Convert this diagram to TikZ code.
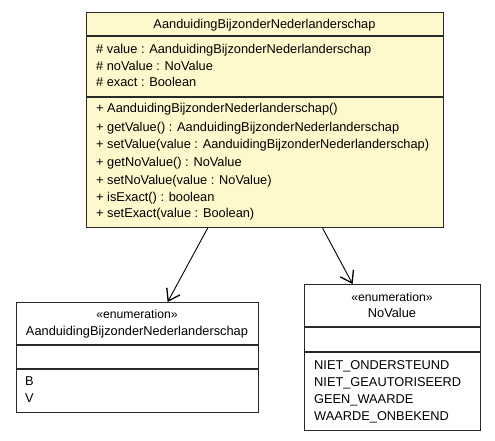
\documentclass[tikz,border=0pt]{standalone}
\usepackage{fontspec}
\setmainfont{Liberation Sans}
\usetikzlibrary{arrows.meta}
\definecolor{classfill}{RGB}{255,248,204}
\definecolor{edge}{RGB}{40,40,40}
\tikzset{
  umlbox/.style={draw=edge, line width=1.2pt, anchor=north west, inner sep=0pt},
  sep/.style={draw=edge, line width=1.2pt},
  txt/.style={anchor=base west, inner sep=0pt, font=\fontsize{12.8}{14}\selectfont},
  ctxt/.style={anchor=base, inner sep=0pt, font=\fontsize{12.8}{14}\selectfont},
  stereo/.style={anchor=base, inner sep=0pt, font=\fontsize{12.2}{14}\selectfont},
  assoc/.style={draw=black, line width=0.9pt, -{Straight Barb[length=11pt,width=15pt,line width=1.3pt]}}
}
\begin{document}
\begin{tikzpicture}[x=1pt,y=-1pt]
\useasboundingbox (0,0) rectangle (495,440);
% main class
\node[umlbox, fill=classfill, minimum width=357pt, minimum height=215pt] (main) at (86,12) {};
\draw[sep] (86,36) -- (443,36);
\draw[sep] (86,97) -- (443,97);
\node[ctxt] (mtitle) at (264.5,28.5) {AanduidingBijzonderNederlanderschap};
\node[txt] (a1) at (96,53.5) {\# value : AanduidingBijzonderNederlanderschap};
\node[txt] (a2) at (96,70) {\# noValue : NoValue};
\node[txt] (a3) at (96,86.5) {\# exact : Boolean};
\node[txt] (m1) at (96,112.5) {+ AanduidingBijzonderNederlanderschap()};
\node[txt] (m2) at (96,131) {+ getValue() : AanduidingBijzonderNederlanderschap};
\node[txt] (m3) at (96,148.5) {+ setValue(value : AanduidingBijzonderNederlanderschap)};
\node[txt] (m4) at (96,166.5) {+ getNoValue() : NoValue};
\node[txt] (m5) at (96,184) {+ setNoValue(value : NoValue)};
\node[txt] (m6) at (96,201) {+ isExact() : boolean};
\node[txt] (m7) at (96,217.5) {+ setExact(value : Boolean)};
% left enumeration
\node[umlbox, fill=white, minimum width=242pt, minimum height=110pt] (enumA) at (16,302) {};
\draw[sep] (16,345) -- (258,345);
\draw[sep] (16,369) -- (258,369);
\node[stereo] (sA) at (137,318) {«enumeration»};
\node[ctxt] (nA) at (137,335) {AanduidingBijzonderNederlanderschap};
\node[txt] (eB) at (25,385.5) {B};
\node[txt] (eV) at (25,402.5) {V};
% right enumeration
\node[umlbox, fill=white, minimum width=176pt, minimum height=146pt] (enumN) at (304,284) {};
\draw[sep] (304,327) -- (480,327);
\draw[sep] (304,352) -- (480,352);
\node[stereo] (sN) at (392,301) {«enumeration»};
\node[ctxt] (nN) at (392,317.5) {NoValue};
\node[txt] (e1) at (314,369.5) {NIET\_ONDERSTEUND};
\node[txt] (e2) at (314,386) {NIET\_GEAUTORISEERD};
\node[txt] (e3) at (314,403) {GEEN\_WAARDE};
\node[txt] (e4) at (314,420) {WAARDE\_ONBEKEND};
% associations
\draw[assoc] ([xshift=-57.5pt]main.south) -- ([xshift=30pt]enumA.north);
\draw[assoc] ([xshift=57.5pt]main.south) -- ([xshift=-40pt]enumN.north);
\end{tikzpicture}
\end{document}
